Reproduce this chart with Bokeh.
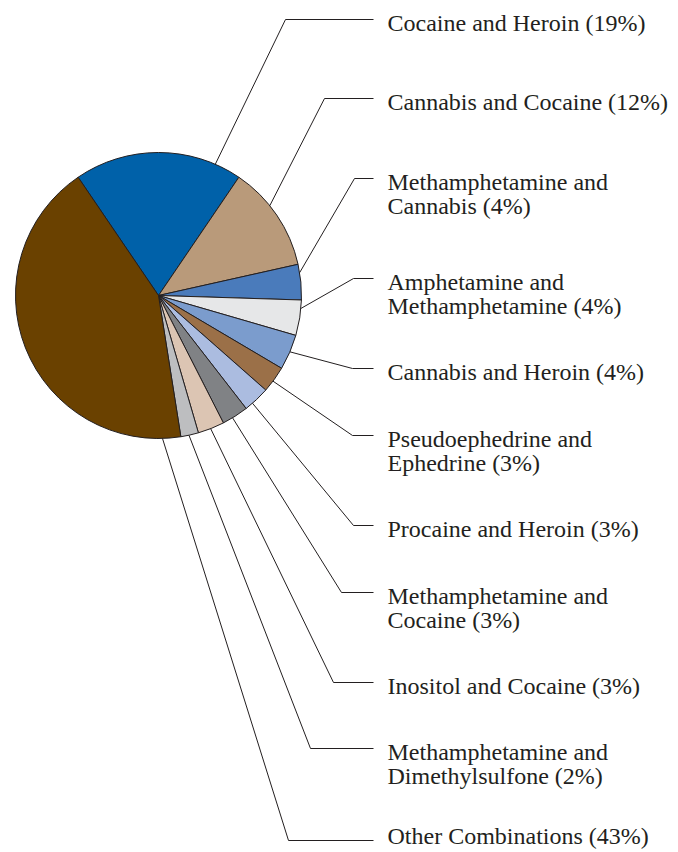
import math

from bokeh.plotting import figure
from bokeh.models import Range1d
from bokeh.core.properties import value
from bokeh.embed import file_html
from bokeh.resources import INLINE

# slice data, clockwise from the top
labels = [
    "Cocaine and Heroin (19%)",
    "Cannabis and Cocaine (12%)",
    "Methamphetamine and\nCannabis (4%)",
    "Amphetamine and\nMethamphetamine (4%)",
    "Cannabis and Heroin (4%)",
    "Pseudoephedrine and\nEphedrine (3%)",
    "Procaine and Heroin (3%)",
    "Methamphetamine and\nCocaine (3%)",
    "Inositol and Cocaine (3%)",
    "Methamphetamine and\nDimethylsulfone (2%)",
    "Other Combinations (43%)",
]
shares = [19, 12, 4, 4, 4, 3, 3, 3, 3, 2, 43]
colors = ["#0061a9", "#b99a7a", "#4a7bbb", "#e6e7e8", "#7b9ccd", "#9b7048",
          "#abbce0", "#808285", "#dcc5b3", "#bdbec0", "#6a4100"]

# leader layout: anchor angle on the rim (deg clockwise from top), elbow point (px)
anchor_deg = [23.4, 51.1, 80.8, 95.2, 113.2, 126.8, 138.9, 148.8, 158.6, 167.7, 178.4]
elbow_x = [285, 324, 354, 353, 352, 352, 353, 341, 333, 310, 288]
elbow_y = [19, 98, 178, 278, 368, 435, 525, 592, 682, 748, 840]

cx, cy, r = 158, -295, 143
line_end_x = 373
text_x = 387
line_gap = 24.5
ink = "#231f20"

W, H = 678, 852
p = figure(width=W, height=H, output_backend="svg", toolbar_location=None,
           x_range=Range1d(0, W), y_range=Range1d(-H, 0),
           min_border=0)
p.axis.visible = False
p.grid.visible = False
p.outline_line_color = None

# pie slices, first slice centred on the top
total = sum(shares)
c = -shares[0] / total * 180.0
starts, ends = [], []
for s in shares:
    c1 = c + s / total * 360.0
    starts.append(math.radians(90 - c1))
    ends.append(math.radians(90 - c))
    c = c1

p.wedge(x=cx, y=cy, radius=r, start_angle=starts, end_angle=ends,
        fill_color=colors, line_color=ink, line_width=1)

# leader lines
xs, ys = [], []
for a, ex, ey in zip(anchor_deg, elbow_x, elbow_y):
    t = math.radians(a)
    xs.append([cx + r * math.sin(t), ex, line_end_x])
    ys.append([cy + r * math.cos(t), -ey, -ey])
p.multi_line(xs=xs, ys=ys, line_color=ink, line_width=1)

# labels, one text row per line; keep the last one inside the page
tx, ty, tt = [], [], []
for lab, ey in zip(labels, elbow_y):
    for k, part in enumerate(lab.split("\n")):
        tx.append(text_x)
        ty.append(-min(ey + 3 + k * line_gap, H - 17))
        tt.append(part)
p.text(x=tx, y=ty, text=tt, text_font=value("Liberation Serif"),
       text_font_size="24px", text_color=ink, text_baseline="middle",
       text_align="left")

open("out.html", "w").write(file_html(p, INLINE))
